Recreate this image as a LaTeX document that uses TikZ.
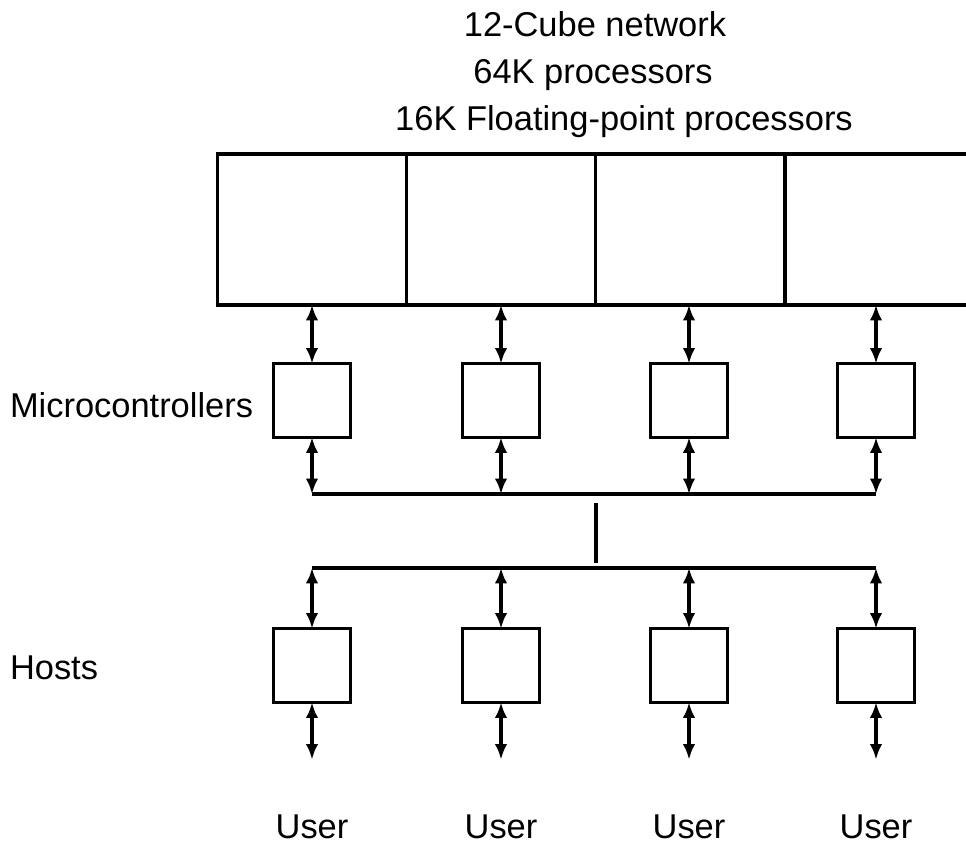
\documentclass[tikz,border=0pt]{standalone}
\usepackage{fontspec}
\setmainfont{Liberation Sans}
\usetikzlibrary{arrows.meta,positioning}

\begin{document}
\begin{tikzpicture}[>={Latex[length=11pt,width=9pt]},line width=2.2pt,
  every node/.style={inner sep=0pt,outer sep=0pt},
  cell/.style={draw,line width=2.2pt,minimum width=4.73cm,minimum height=3.775cm},
  box/.style={draw,line width=2.2pt,minimum width=1.92cm,minimum height=1.85cm},
  lbl/.style={anchor=base,font=\fontsize{24.5}{30}\selectfont}]
\useasboundingbox (0,0) rectangle (24.15,21.15);
\node[lbl](t1) at (14.875,20.225){12-Cube network};
\node[lbl](t2) at (14.825,19.05){64K processors};
\node[lbl](t3) at (15.6,17.875){16K Floating-point processors};
\node[cell](c1) at (7.8,15.4125){};\node[cell,right=0pt of c1](c2){};
\node[cell,right=0pt of c2](c3){};\node[cell,right=0pt of c3](c4){};
\node[lbl,anchor=base west](ml) at (0.25,10.7){Microcontrollers};
\node[box](m1) at (7.8,11.1375){};\node[box](m2) at (12.525,11.1375){};
\node[box](m3) at (17.225,11.1375){};\node[box](m4) at (21.9,11.1375){};
\node[lbl,anchor=base west](hl) at (0.25,4.15){Hosts};
\node[box](h1) at (7.8,4.5125){};\node[box](h2) at (12.525,4.5125){};
\node[box](h3) at (17.225,4.5125){};\node[box](h4) at (21.9,4.5125){};
\node[lbl](u1) at (7.8,0.2){User};\node[lbl](u2) at (12.525,0.2){User};
\node[lbl](u3) at (17.225,0.2){User};\node[lbl](u4) at (21.9,0.2){User};
\coordinate(b1) at (0,8.8);\coordinate(b2) at (0,6.95);
\coordinate(v1) at (14.9,8.575);\coordinate(v2) at (14.9,7.075);
\draw(m1|-b1)--(m4|-b1);\draw(h1|-b2)--(h4|-b2);\draw(v1)--(v2);
\foreach \i in {1,...,4}{
  \coordinate(e\i) at ([yshift=-1.425cm]h\i.south);
  \draw[<->,line width=2.2pt](c\i.south-|m\i)--(m\i.north);
  \draw[<->,line width=2.2pt](m\i.south)--(m\i|-b1);
  \draw[<->,line width=2.2pt](h\i|-b2)--(h\i.north);
  \draw[<->,line width=2.2pt](h\i.south)--(e\i);
}
\end{tikzpicture}
\end{document}
